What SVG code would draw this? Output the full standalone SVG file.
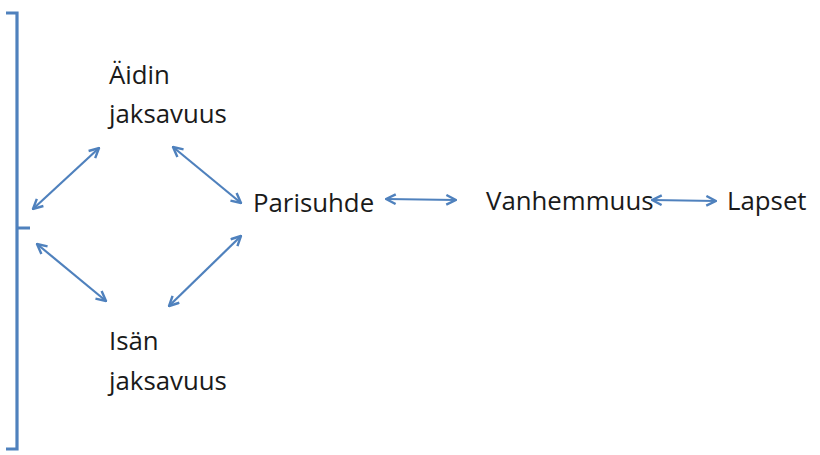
<svg xmlns="http://www.w3.org/2000/svg" width="820" height="455" viewBox="0 0 820 455">
<defs>
<marker id="ah" viewBox="0 0 10 10" refX="9" refY="5" markerWidth="5.5" markerHeight="5.5" orient="auto-start-reverse" markerUnits="strokeWidth">
<path d="M1,1 L9,5 L1,9" fill="none" stroke="#4f81bd" stroke-width="2"/>
</marker>
<style>
text{font-family:"Open Sans","Noto Sans",sans-serif;font-size:25.8px;fill:#1a1a1a}
.c{stroke:#4f81bd;stroke-width:2.2;fill:none}
.a{marker-start:url(#ah);marker-end:url(#ah)}
.br{stroke:#4f81bd;stroke-width:3.2;fill:none}
</style>
</defs>
<g id="bracket"><path class="br" d="M6,13 H17 V449 H6 M17,228 H30"/></g>
<g id="n-aidin"><text x="109" y="84">Äidin</text><text x="109" y="123">jaksavuus</text></g>
<g id="n-isan"><text x="109" y="350">Isän</text><text x="109" y="390">jaksavuus</text></g>
<g id="n-parisuhde"><text x="253" y="212">Parisuhde</text></g>
<g id="n-vanhemmuus"><text x="486" y="210">Vanhemmuus</text></g>
<g id="n-lapset"><text x="727" y="210">Lapset</text></g>
<g id="connectors">
<line class="c a" x1="33" y1="209" x2="99" y2="148"/>
<line class="c a" x1="173" y1="147" x2="241" y2="203"/>
<line class="c a" x1="37" y1="244" x2="106" y2="301"/>
<line class="c a" x1="169" y1="306" x2="241" y2="236"/>
<line class="c a" x1="386" y1="199" x2="456" y2="200"/>
<line class="c a" x1="652" y1="200" x2="716" y2="201"/>
</g>
</svg>
